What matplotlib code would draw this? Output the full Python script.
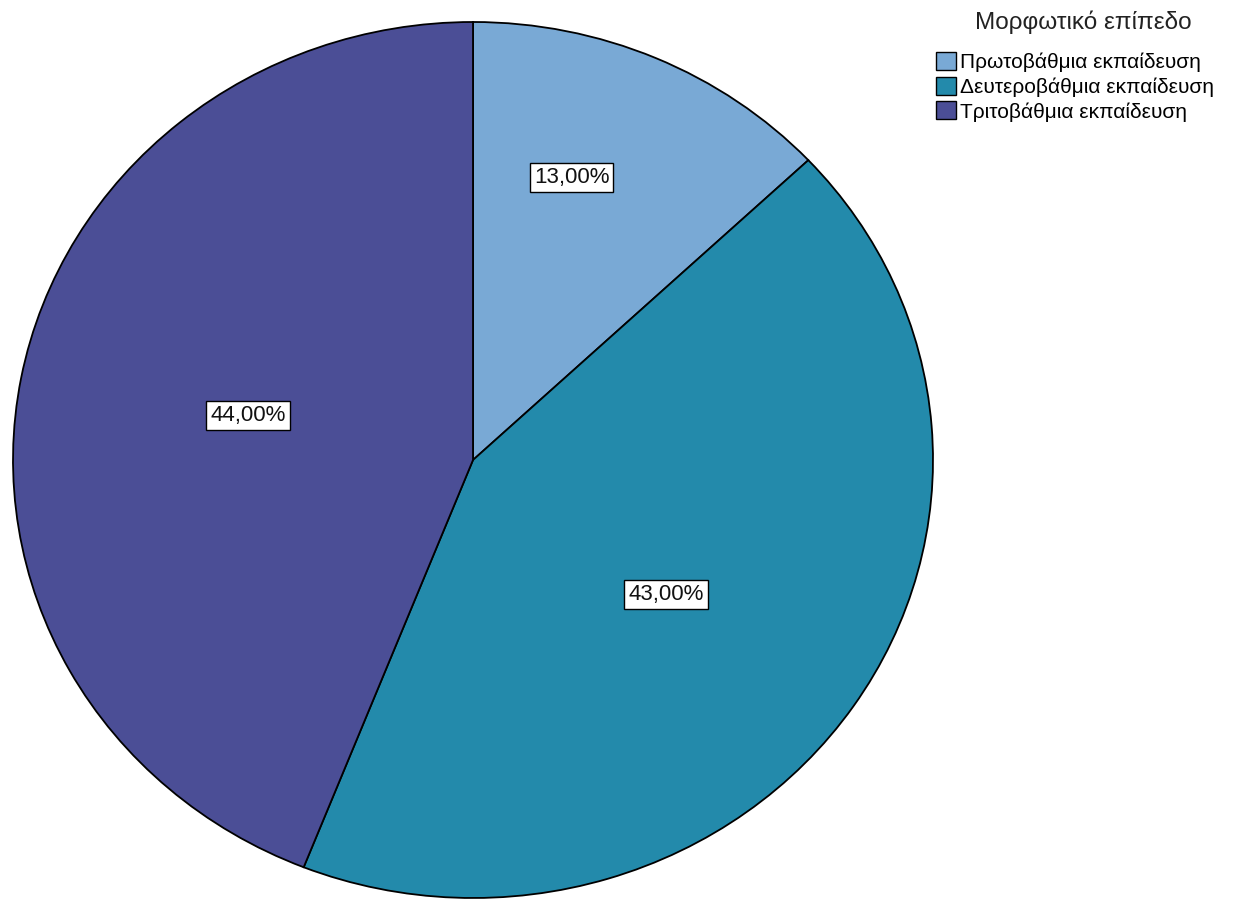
import numpy as np
import matplotlib
matplotlib.use("Agg")
import matplotlib.pyplot as plt
from matplotlib.patches import Patch

plt.rcParams['font.family'] = ['Liberation Sans', 'DejaVu Sans']

# education level shares (%)
categories = ['Πρωτοβάθμια εκπαίδευση', 'Δευτεροβάθμια εκπαίδευση', 'Τριτοβάθμια εκπαίδευση']
shares = [13.0, 43.0, 44.0]
colors = ['#79A9D5', '#238AAB', '#4B4E96']
legend_title = 'Μορφωτικό επίπεδο'

# where each value label sits inside its slice
label_radius = [0.68, 0.52, 0.50]
label_shift_deg = [5.0, -2.0, -1.0]

fig = plt.figure(figsize=(12.34, 8.99), dpi=100)
W, H = 1234, 899
ax = fig.add_axes([13 / W, 1 / H, 920 / W, 876 / H])

wedges, _ = ax.pie(shares, colors=colors, startangle=90, counterclock=False,
                   wedgeprops=dict(edgecolor='black', linewidth=1.3))
for w in wedges:
    w.set_clip_on(False)
ax.set_aspect('auto')
ax.set_xlim(-1, 1)
ax.set_ylim(-1, 1)
ax.axis('off')

# value labels in white boxes
total = sum(shares)
start = 90.0
for v, r, shift in zip(shares, label_radius, label_shift_deg):
    sweep = 360.0 * v / total
    mid = np.radians(start - sweep / 2 + shift)
    start -= sweep
    txt = f"{v:.2f}%".replace('.', ',')
    ax.text(r * np.cos(mid), r * np.sin(mid), txt, ha='center', va='center',
            fontsize=16, color='#111111',
            bbox=dict(boxstyle='square,pad=0.18', facecolor='white',
                      edgecolor='black', linewidth=1.0))

# legend
handles = [Patch(facecolor=c, edgecolor='black', linewidth=1.0) for c in colors]
fig.legend(handles, categories, loc='upper left',
           bbox_to_anchor=(936 / W, 1 - 52 / H), frameon=False,
           fontsize=15, handlelength=0.95, handleheight=0.95,
           handletextpad=0.2, labelspacing=0.22, borderaxespad=0, borderpad=0)
fig.text(1083 / W, 1 - 22 / H, legend_title, ha='center', va='center',
         fontsize=17.5, color='#222222')

fig.savefig('out.png', dpi=100, facecolor='white')
